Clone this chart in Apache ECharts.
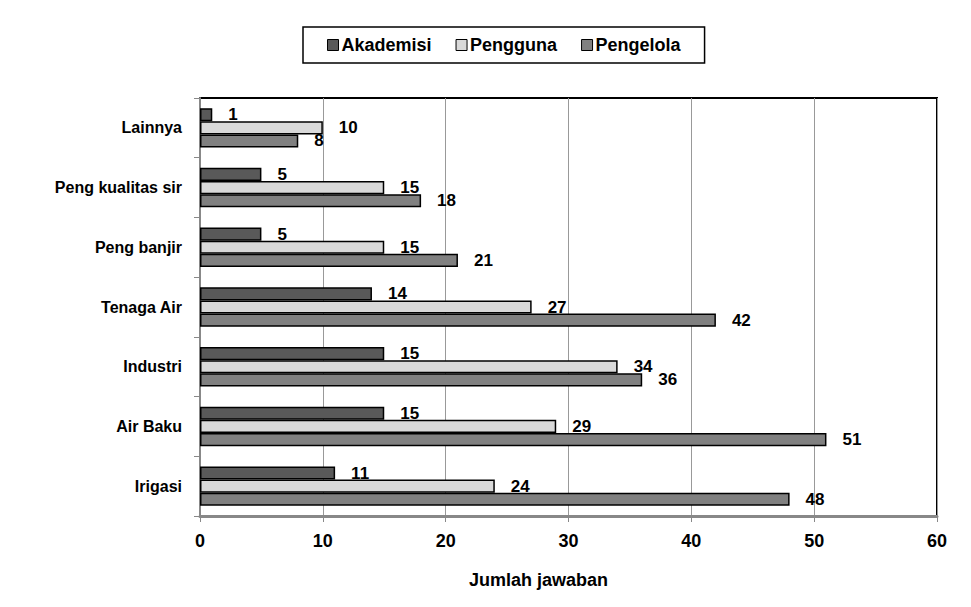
<!DOCTYPE html>
<html>
<head>
<meta charset="utf-8">
<script src="https://cdn.jsdelivr.net/npm/echarts@6/dist/echarts.min.js"></script>
<style>
  html, body { margin: 0; padding: 0; background: #fff; }
  #main { width: 971px; height: 607px; }
</style>
</head>
<body>
<div id="main"></div>
<script>
// categories top to bottom
const categories = ['Lainnya', 'Peng kualitas sir', 'Peng banjir', 'Tenaga Air', 'Industri', 'Air Baku', 'Irigasi'];
const akademisi = [1, 5, 5, 14, 15, 15, 11];
const pengguna = [10, 15, 15, 27, 34, 29, 24];
const pengelola = [8, 18, 21, 42, 36, 51, 48];

const FONT = '"Liberation Sans Narrow", "Arial Narrow", "Liberation Sans", sans-serif';

const myChart = echarts.init(document.getElementById('main'), null, { renderer: 'svg' });

function barSeries(name, data, color) {
	return {
		name: name,
		type: 'bar',
		data: data,
		barGap: '0%',
		barCategoryGap: '34%',
		itemStyle: { color: color, borderColor: '#000', borderWidth: 1.5 },
		label: {
			show: true,
			position: 'right',
			distance: 16,
			color: '#000',
			fontFamily: FONT,
			fontWeight: 'bold',
			fontSize: 17
		}
	};
}

const option = {
	animation: false,
	textStyle: { fontFamily: FONT },
	color: ['#595959', '#d9d9d9', '#808080'],
	legend: {
		data: ['Akademisi', 'Pengguna', 'Pengelola'],
		left: 303,
		top: 27,
		padding: [9, 24, 9, 24],
		itemGap: 24,
		itemWidth: 11,
		itemHeight: 11,
		icon: 'rect',
		borderColor: '#000',
		borderWidth: 1.5,
		itemStyle: { borderColor: '#000', borderWidth: 1 },
		textStyle: { fontFamily: FONT, fontWeight: 'bold', fontSize: 18, color: '#000', padding: [0, 0, 0, -2] }
	},
	grid: {
		left: 200,
		right: 34,
		top: 98,
		bottom: 91,
		show: true,
		borderColor: '#000',
		borderWidth: 2
	},
	xAxis: {
		type: 'value',
		min: 0,
		max: 60,
		interval: 10,
		name: 'Jumlah jawaban',
		nameLocation: 'middle',
		nameGap: 55,
		nameTextStyle: { fontFamily: FONT, fontWeight: 'bold', fontSize: 18, color: '#000', padding: [0, 60, 0, 0] },
		axisLine: { show: true, lineStyle: { color: '#888', width: 3 } },
		axisTick: { show: true, length: 6, lineStyle: { color: '#888' } },
		axisLabel: { fontFamily: FONT, fontWeight: 'bold', fontSize: 18, color: '#000', margin: 16 },
		splitLine: { show: true, lineStyle: { color: '#999', width: 1 } }
	},
	yAxis: {
		type: 'category',
		data: categories,
		inverse: true,
		axisLine: { show: true, lineStyle: { color: '#888', width: 2 } },
		axisTick: { show: true, length: 6, lineStyle: { color: '#888' } },
		axisLabel: { fontFamily: FONT, fontWeight: 'bold', fontSize: 16, color: '#000', margin: 18 }
	},
	series: [
		barSeries('Akademisi', akademisi, '#595959'),
		barSeries('Pengguna', pengguna, '#d9d9d9'),
		barSeries('Pengelola', pengelola, '#808080')
	]
};

myChart.setOption(option);
</script>
</body>
</html>
